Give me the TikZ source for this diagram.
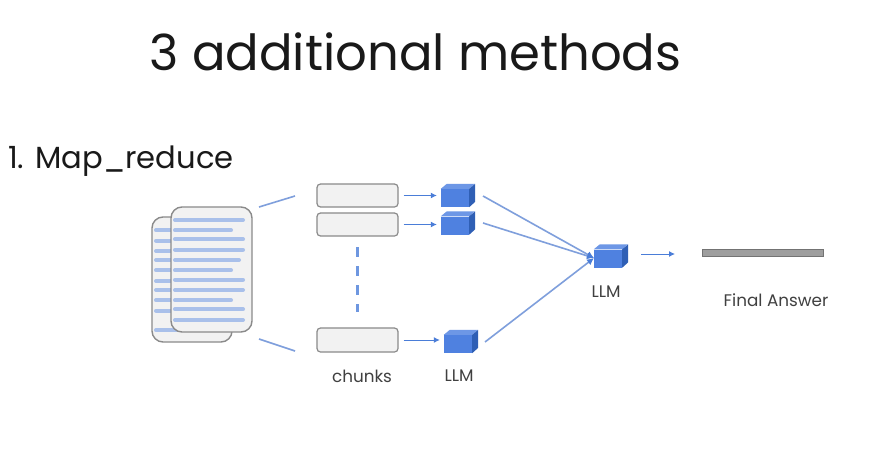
\documentclass[tikz,border=0pt]{standalone}
\usepackage{fontspec}
\setmainfont{Poppins}
\usetikzlibrary{arrows.meta}
\definecolor{bluefront}{HTML}{4F81E0}
\definecolor{bluetop}{HTML}{6D97E6}
\definecolor{blueside}{HTML}{2F5FB5}
\definecolor{linkblue}{HTML}{7F9FDC}
\definecolor{arrowblue}{HTML}{4A7DD8}
\definecolor{textline}{HTML}{A9C0EA}
\definecolor{boxfill}{HTML}{F2F2F2}
\definecolor{boxedge}{HTML}{8A8A8A}
\tikzset{
  x=1pt,y=-1pt,
  pagetext/.style={inner sep=0pt,text=black!90},
  smalltext/.style={inner sep=0pt,text=black!75,font=\fontsize{16.8}{19}\selectfont},
  chunkbox/.style={draw=boxedge,line width=1.2pt,fill=boxfill,rounded corners=3.5pt,minimum width=81pt,minimum height=23pt,inner sep=0pt},
  docsheet/.style={draw=boxedge,line width=1.4pt,fill=boxfill,rounded corners=11pt,inner sep=0pt},
  cubefront/.style={fill=bluefront,minimum width=28pt,minimum height=18pt,inner sep=0pt},
  textbar/.style={draw=textline,line width=4pt,line cap=round},
  linkline/.style={draw=linkblue,line width=1.6pt},
  smallarrow/.style={draw=arrowblue,line width=1pt,-{Latex[length=6pt,width=6pt]},shorten <=5pt,shorten >=4pt},
  mergearrow/.style={draw=linkblue,line width=1.6pt,-{Latex[length=7pt,width=7pt,color=arrowblue]}},
}
\newcommand{\cubeat}[3]{% name, x, y of front-face centre
  \node[cubefront] (#1) at (#2,#3) {};
  \fill[bluetop] (#1.north west) -- ++(6,-5) -- ++(28,0) -- (#1.north east) -- cycle;
  \fill[blueside] (#1.north east) -- ++(6,-5) -- ++(0,18) -- (#1.south east) -- cycle;
}
\begin{document}
\begin{tikzpicture}
\useasboundingbox (0,0) rectangle (884,466);
\fill[white] (0,0) rectangle (884,466);

\node[pagetext,font=\fontsize{49.7}{56}\selectfont] (title) at (415.5,52) {3 additional methods};
\node[pagetext,anchor=west,font=\fontsize{30.6}{35}\selectfont] (heading) at (8,161) {1. Map\_reduce};

% back sheet
\node[docsheet,minimum width=80pt,minimum height=125pt] (docback) at (192,279.5) {};
\foreach \yy in {230.3,240.7,251,260,270.3,281,290,300.3,310.7,330.3}
  \draw[textbar] (156,\yy) -- (190,\yy);
% front sheet
\node[docsheet,minimum width=81pt,minimum height=125pt] (docfront) at (211.5,269.5) {};
\foreach \yy/\xe in {220/243,230.3/231,239.3/243,249.7/243,260/239,270.3/231,279.7/243,290/243,300.3/231,309.3/243,320/243}
  \draw[textbar] (175,\yy) -- (\xe,\yy);

% chunks
\node[chunkbox] (c1) at (357.5,195.5) {};
\node[chunkbox] (c2) at (357.5,224.5) {};
\node[chunkbox,minimum height=24pt] (c3) at (357.5,340) {};

% doc to chunks guide lines
\coordinate (la) at (259,207);
\coordinate (lb) at (295,196);
\coordinate (lc) at (259,339);
\coordinate (ld) at (295,351);
\draw[linkline] (la) -- (lb);
\draw[linkline] (lc) -- (ld);

% dashes between chunks
\coordinate (da) at (357.5,247);
\coordinate (db) at (357.5,312);
\draw[draw=arrowblue!80,line width=2.3pt,dash pattern=on 9.5pt off 9.5pt] (da) -- (db);

% cubes
\cubeat{m1}{455}{198}
\cubeat{m2}{455}{225.5}
\cubeat{m3}{458}{344}
\cubeat{r}{608}{258.5}

\draw[smallarrow] (c1.east) -- (c1.east -| m1.west);
\draw[smallarrow] (c2.east) -- (c2.east -| m2.west);
\draw[smallarrow] (c3.east) -- (c3.east -| m3.west);

% merge arrows
\coordinate (s1) at (483,196);
\coordinate (s2) at (483,223);
\coordinate (s3) at (485,342);
\coordinate (rin) at (594,258);
\draw[mergearrow] (s1) -- (rin);
\draw[mergearrow] (s2) -- (rin);
\draw[mergearrow] (s3) -- (rin);

% final bar
\node[draw=black!55,line width=1pt,fill=black!38,minimum width=121pt,minimum height=6.5pt,inner sep=0pt] (bar) at (762.5,253) {};
\coordinate (fa) at (641,254);
\coordinate (fb) at (675,254);
\draw[draw=arrowblue,line width=1pt,-{Latex[length=6pt,width=6pt]}] (fa) -- (fb);

% labels
\node[smalltext] (lchunks) at (362,376) {chunks};
\node[smalltext] (l1) at (459,376) {LLM};
\node[smalltext] (l2) at (606,292) {LLM};
\node[smalltext] (lfinal) at (776,300) {Final Answer};
\end{tikzpicture}
\end{document}
